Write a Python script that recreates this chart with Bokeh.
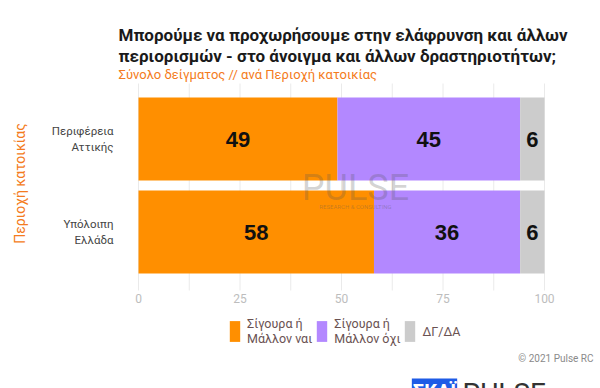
import numpy as np
from bokeh.plotting import figure
from bokeh.models import ColumnDataSource, Range1d, Label, Legend, LegendItem
from bokeh.core.properties import value
from bokeh.embed import file_html
from bokeh.resources import INLINE

# ---- data ----
categories = ["Υπόλοιπη\nΕλλάδα", "Περιφέρεια\nΑττικής"]   # bottom -> top
yes_vals = [58, 49]
no_vals = [36, 45]
dk_vals = [6, 6]
series_names = ["Σίγουρα ή\nΜάλλον ναι", "Σίγουρα ή\nΜάλλον όχι", "ΔΓ/ΔΑ"]
series_colors = ["#FF8F00", "#B388FF", "#CCCCCC"]
x_ticks = [0, 25, 50, 75, 100]
grid_ticks = [0, 12.5, 25, 37.5, 50, 62.5, 75, 87.5, 100]

title_lines = ["Μπορούμε να προχωρήσουμε στην ελάφρυνση και άλλων",
               "περιορισμών - στο άνοιγμα και άλλων δραστηριοτήτων;"]
subtitle = "Σύνολο δείγματος // ανά Περιοχή κατοικίας"
y_title = "Περιοχή κατοικίας"
credit = "© 2021 Pulse RC"

ORANGE = "#F47B20"
FONT = "Roboto"

# ---- layout (page pixels) ----
W, H = 600, 388
X0_PX, X100_PX = 138, 544          # where 0 and 100 fall
PX_PER_X = (X100_PX - X0_PX) / 100.0
ROW_PX = 93.0                      # distance between category centres
TOP_CAT_PX = 138.5                 # centre of the top category
FRAME_TOP, FRAME_BOT = 83, 290     # grid extent

n = len(categories)
ypos = np.arange(n, dtype=float)
y_end = (n - 1) + TOP_CAT_PX / ROW_PX
y_start = y_end - H / ROW_PX

def xd(px):
    return (px - X0_PX) / PX_PER_X

def yd(py):
    return y_end - py / ROW_PX

src = ColumnDataSource(dict(y=ypos, yes=yes_vals, no=no_vals, dk=dk_vals))

p = figure(width=W, height=H, output_backend="svg", toolbar_location=None,
           x_range=Range1d(xd(0), xd(W)), y_range=Range1d(y_start, y_end),
           x_axis_location=None, y_axis_location=None,
           min_border=0, min_border_left=0, min_border_right=0,
           min_border_top=0, min_border_bottom=0)
p.outline_line_color = None
p.grid.visible = False
p.background_fill_color = "white"
p.border_fill_color = "white"

# grid lines
p.segment(x0=grid_ticks, x1=grid_ticks, y0=[yd(FRAME_BOT)] * len(grid_ticks),
          y1=[yd(FRAME_TOP)] * len(grid_ticks), line_color="#EAEAEA", line_width=1)

rs = p.hbar_stack(["yes", "no", "dk"], y="y", height=0.89, source=src,
                  color=series_colors, line_color=None)

# value labels centred in segments
yes_a = np.array(yes_vals, dtype=float)
no_a = np.array(no_vals, dtype=float)
dk_a = np.array(dk_vals, dtype=float)
lab_x = list(yes_a / 2) + list(yes_a + no_a / 2) + list(yes_a + no_a + dk_a / 2)
lab_y = list(ypos) * 3
lab_t = [str(v) for v in yes_vals + no_vals + dk_vals]
p.text(x=lab_x, y=lab_y, text=lab_t, text_align="center", text_baseline="middle",
       text_font=value("Liberation Sans"), text_font_style="bold",
       text_font_size="22px", text_color="#111111")

# x tick labels
p.text(x=x_ticks, y=[yd(298)] * len(x_ticks), text=[str(t) for t in x_ticks],
       text_align="center", text_baseline="middle", text_font=value(FONT),
       text_font_size="12px", text_color="#BDBDBD")

# category labels
p.text(x=[xd(113)] * n, y=ypos, text=categories, text_align="right",
       text_baseline="middle", text_font=value(FONT), text_font_size="11.5px",
       text_color="#444444", text_line_height=1.2)

# legend
items = [LegendItem(label=series_names[i], renderers=[rs[i]]) for i in range(3)]
leg = Legend(items=items, orientation="horizontal", location=(228, H - 346),
             glyph_width=13, glyph_height=26, label_standoff=6, spacing=3,
             padding=0, margin=0, border_line_color=None, background_fill_alpha=0,
             label_text_font=FONT, label_text_font_size="12.5px",
             label_text_color="#6A5252", label_text_line_height=1.05)
p.add_layout(leg, "center")

def lab(px, py, text, **kw):
    p.add_layout(Label(x=px, y=H - py, x_units="screen", y_units="screen",
                       text=text, **kw))

lab(118, 34, title_lines[0], text_font=FONT, text_font_style="bold",
    text_font_size="17px", text_color="#1A1A1A", text_baseline="alphabetic")
lab(118, 55, title_lines[1], text_font=FONT, text_font_style="bold",
    text_font_size="17px", text_color="#1A1A1A", text_baseline="alphabetic")
lab(118, 74, subtitle, text_font=FONT, text_font_size="13px",
    text_color=ORANGE, text_baseline="alphabetic")
lab(19, 183, y_title, angle=np.pi / 2, text_font=FONT, text_font_size="14px",
    text_color=ORANGE, text_align="center", text_baseline="middle")
lab(593, 358, credit, text_font=FONT, text_font_size="10px", text_color="#8A8A8A",
    text_align="right", text_baseline="middle")

# watermark
lab(355, 187, "PULSE", text_font=FONT, text_font_size="36px", text_color="#555555",
    text_alpha=0.25, text_align="center", text_baseline="alphabetic")
lab(355, 206, "RESEARCH & CONSULTING", text_font=FONT, text_font_size="6px",
    text_color="#555555", text_alpha=0.35, text_align="center", text_baseline="alphabetic")

# bottom logos
lab(434, 378, "ΣΚΑΪ", text_font=FONT, text_font_style="bold", text_font_size="20px",
    text_color="white", text_align="center", text_baseline="top",
    background_fill_color="#1E5BE6", padding=1)
lab(462, 376, "PULSE", text_font=FONT, text_font_size="28px", text_color="#333333",
    text_baseline="top")

open("out.html", "w").write(file_html(p, INLINE))
